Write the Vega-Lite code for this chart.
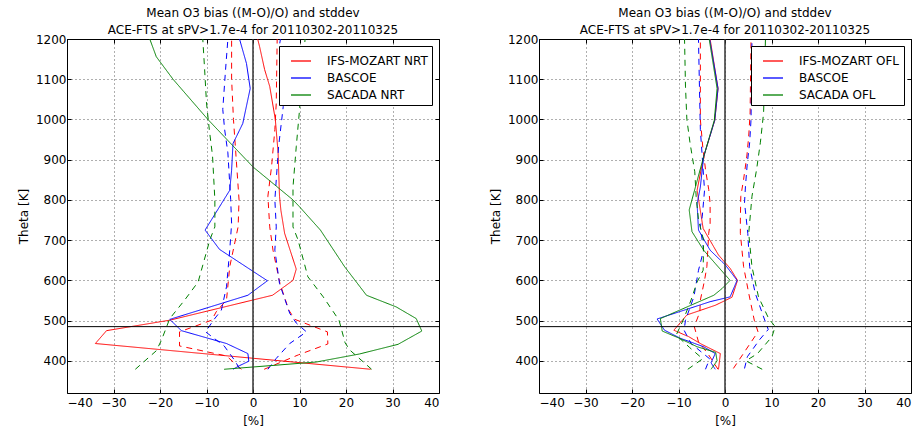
{
  "$schema": "https://vega.github.io/schema/vega-lite/v6.json",
  "background": "white",
  "padding": {"left": 16, "top": 6, "right": 5, "bottom": 0},
  "spacing": 48,
  "datasets": {
    "left": [
      {"series": "IFS-MOZART NRT", "line": "mean", "theta": 1200, "bias": 1.0},
      {"series": "IFS-MOZART NRT", "line": "mean", "theta": 1182, "bias": 1.4},
      {"series": "IFS-MOZART NRT", "line": "mean", "theta": 1124, "bias": 2.5},
      {"series": "IFS-MOZART NRT", "line": "mean", "theta": 1082, "bias": 3.6},
      {"series": "IFS-MOZART NRT", "line": "mean", "theta": 1000, "bias": 4.8},
      {"series": "IFS-MOZART NRT", "line": "mean", "theta": 917, "bias": 5.4},
      {"series": "IFS-MOZART NRT", "line": "mean", "theta": 809, "bias": 5.7},
      {"series": "IFS-MOZART NRT", "line": "mean", "theta": 774, "bias": 6.0},
      {"series": "IFS-MOZART NRT", "line": "mean", "theta": 717, "bias": 6.8},
      {"series": "IFS-MOZART NRT", "line": "mean", "theta": 628, "bias": 9.3},
      {"series": "IFS-MOZART NRT", "line": "mean", "theta": 600, "bias": 8.6},
      {"series": "IFS-MOZART NRT", "line": "mean", "theta": 563, "bias": 4.2},
      {"series": "IFS-MOZART NRT", "line": "mean", "theta": 501, "bias": -17.9},
      {"series": "IFS-MOZART NRT", "line": "mean", "theta": 475, "bias": -31.5},
      {"series": "IFS-MOZART NRT", "line": "mean", "theta": 443, "bias": -33.9},
      {"series": "IFS-MOZART NRT", "line": "mean", "theta": 379, "bias": 25.3},
      {"series": "IFS-MOZART NRT", "line": "lo", "theta": 1200, "bias": -4.6},
      {"series": "IFS-MOZART NRT", "line": "lo", "theta": 1100, "bias": -4.6},
      {"series": "IFS-MOZART NRT", "line": "lo", "theta": 1000, "bias": -4.2},
      {"series": "IFS-MOZART NRT", "line": "lo", "theta": 900, "bias": -3.6},
      {"series": "IFS-MOZART NRT", "line": "lo", "theta": 800, "bias": -3.0},
      {"series": "IFS-MOZART NRT", "line": "lo", "theta": 733, "bias": -3.2},
      {"series": "IFS-MOZART NRT", "line": "lo", "theta": 634, "bias": -5.0},
      {"series": "IFS-MOZART NRT", "line": "lo", "theta": 551, "bias": -5.7},
      {"series": "IFS-MOZART NRT", "line": "lo", "theta": 522, "bias": -7.9},
      {"series": "IFS-MOZART NRT", "line": "lo", "theta": 501, "bias": -8.9},
      {"series": "IFS-MOZART NRT", "line": "lo", "theta": 472, "bias": -15.8},
      {"series": "IFS-MOZART NRT", "line": "lo", "theta": 437, "bias": -15.8},
      {"series": "IFS-MOZART NRT", "line": "lo", "theta": 412, "bias": -5.7},
      {"series": "IFS-MOZART NRT", "line": "lo", "theta": 379, "bias": -2.5},
      {"series": "IFS-MOZART NRT", "line": "hi", "theta": 1200, "bias": 5.2},
      {"series": "IFS-MOZART NRT", "line": "hi", "theta": 1041, "bias": 5.0},
      {"series": "IFS-MOZART NRT", "line": "hi", "theta": 975, "bias": 4.7},
      {"series": "IFS-MOZART NRT", "line": "hi", "theta": 884, "bias": 4.0},
      {"series": "IFS-MOZART NRT", "line": "hi", "theta": 809, "bias": 3.2},
      {"series": "IFS-MOZART NRT", "line": "hi", "theta": 733, "bias": 3.6},
      {"series": "IFS-MOZART NRT", "line": "hi", "theta": 675, "bias": 4.3},
      {"series": "IFS-MOZART NRT", "line": "hi", "theta": 592, "bias": 5.8},
      {"series": "IFS-MOZART NRT", "line": "hi", "theta": 526, "bias": 7.7},
      {"series": "IFS-MOZART NRT", "line": "hi", "theta": 503, "bias": 9.0},
      {"series": "IFS-MOZART NRT", "line": "hi", "theta": 472, "bias": 16.0},
      {"series": "IFS-MOZART NRT", "line": "hi", "theta": 442, "bias": 16.1},
      {"series": "IFS-MOZART NRT", "line": "hi", "theta": 415, "bias": 9.8},
      {"series": "IFS-MOZART NRT", "line": "hi", "theta": 379, "bias": 2.4},
      {"series": "BASCOE", "line": "mean", "theta": 1200, "bias": -2.9},
      {"series": "BASCOE", "line": "mean", "theta": 1139, "bias": -1.4},
      {"series": "BASCOE", "line": "mean", "theta": 1077, "bias": -0.6},
      {"series": "BASCOE", "line": "mean", "theta": 990, "bias": -2.2},
      {"series": "BASCOE", "line": "mean", "theta": 940, "bias": -4.3},
      {"series": "BASCOE", "line": "mean", "theta": 874, "bias": -4.6},
      {"series": "BASCOE", "line": "mean", "theta": 824, "bias": -5.0},
      {"series": "BASCOE", "line": "mean", "theta": 725, "bias": -10.3},
      {"series": "BASCOE", "line": "mean", "theta": 677, "bias": -7.2},
      {"series": "BASCOE", "line": "mean", "theta": 599, "bias": 3.1},
      {"series": "BASCOE", "line": "mean", "theta": 563, "bias": -1.1},
      {"series": "BASCOE", "line": "mean", "theta": 503, "bias": -17.9},
      {"series": "BASCOE", "line": "mean", "theta": 475, "bias": -15.4},
      {"series": "BASCOE", "line": "mean", "theta": 443, "bias": -5.7},
      {"series": "BASCOE", "line": "mean", "theta": 418, "bias": -1.1},
      {"series": "BASCOE", "line": "mean", "theta": 399, "bias": -0.9},
      {"series": "BASCOE", "line": "mean", "theta": 388, "bias": -2.9},
      {"series": "BASCOE", "line": "mean", "theta": 379, "bias": -4.3},
      {"series": "BASCOE", "line": "lo", "theta": 1200, "bias": -5.4},
      {"series": "BASCOE", "line": "lo", "theta": 1124, "bias": -5.9},
      {"series": "BASCOE", "line": "lo", "theta": 1025, "bias": -6.5},
      {"series": "BASCOE", "line": "lo", "theta": 975, "bias": -6.1},
      {"series": "BASCOE", "line": "lo", "theta": 917, "bias": -5.4},
      {"series": "BASCOE", "line": "lo", "theta": 801, "bias": -4.8},
      {"series": "BASCOE", "line": "lo", "theta": 741, "bias": -4.6},
      {"series": "BASCOE", "line": "lo", "theta": 675, "bias": -5.0},
      {"series": "BASCOE", "line": "lo", "theta": 584, "bias": -5.7},
      {"series": "BASCOE", "line": "lo", "theta": 526, "bias": -6.8},
      {"series": "BASCOE", "line": "lo", "theta": 501, "bias": -8.5},
      {"series": "BASCOE", "line": "lo", "theta": 472, "bias": -10.2},
      {"series": "BASCOE", "line": "lo", "theta": 437, "bias": -6.2},
      {"series": "BASCOE", "line": "lo", "theta": 402, "bias": -4.0},
      {"series": "BASCOE", "line": "lo", "theta": 381, "bias": -2.9},
      {"series": "BASCOE", "line": "hi", "theta": 1200, "bias": 5.9},
      {"series": "BASCOE", "line": "hi", "theta": 1185, "bias": 5.7},
      {"series": "BASCOE", "line": "hi", "theta": 1032, "bias": 6.5},
      {"series": "BASCOE", "line": "hi", "theta": 932, "bias": 5.5},
      {"series": "BASCOE", "line": "hi", "theta": 800, "bias": 4.7},
      {"series": "BASCOE", "line": "hi", "theta": 733, "bias": 5.0},
      {"series": "BASCOE", "line": "hi", "theta": 675, "bias": 4.7},
      {"series": "BASCOE", "line": "hi", "theta": 592, "bias": 5.7},
      {"series": "BASCOE", "line": "hi", "theta": 518, "bias": 7.9},
      {"series": "BASCOE", "line": "hi", "theta": 494, "bias": 9.3},
      {"series": "BASCOE", "line": "hi", "theta": 472, "bias": 11.5},
      {"series": "BASCOE", "line": "hi", "theta": 443, "bias": 7.9},
      {"series": "BASCOE", "line": "hi", "theta": 406, "bias": 5.0},
      {"series": "BASCOE", "line": "hi", "theta": 379, "bias": 3.2},
      {"series": "SACADA NRT", "line": "mean", "theta": 1200, "bias": -22.2},
      {"series": "SACADA NRT", "line": "mean", "theta": 1156, "bias": -20.8},
      {"series": "SACADA NRT", "line": "mean", "theta": 1100, "bias": -17.2},
      {"series": "SACADA NRT", "line": "mean", "theta": 1000, "bias": -9.7},
      {"series": "SACADA NRT", "line": "mean", "theta": 882, "bias": 0.0},
      {"series": "SACADA NRT", "line": "mean", "theta": 800, "bias": 8.6},
      {"series": "SACADA NRT", "line": "mean", "theta": 783, "bias": 10.0},
      {"series": "SACADA NRT", "line": "mean", "theta": 725, "bias": 14.5},
      {"series": "SACADA NRT", "line": "mean", "theta": 634, "bias": 19.7},
      {"series": "SACADA NRT", "line": "mean", "theta": 563, "bias": 24.4},
      {"series": "SACADA NRT", "line": "mean", "theta": 534, "bias": 30.8},
      {"series": "SACADA NRT", "line": "mean", "theta": 505, "bias": 35.1},
      {"series": "SACADA NRT", "line": "mean", "theta": 474, "bias": 36.3},
      {"series": "SACADA NRT", "line": "mean", "theta": 441, "bias": 31.2},
      {"series": "SACADA NRT", "line": "mean", "theta": 417, "bias": 22.9},
      {"series": "SACADA NRT", "line": "mean", "theta": 397, "bias": 13.6},
      {"series": "SACADA NRT", "line": "mean", "theta": 379, "bias": -6.2},
      {"series": "SACADA NRT", "line": "lo", "theta": 1200, "bias": -10.8},
      {"series": "SACADA NRT", "line": "lo", "theta": 1124, "bias": -10.4},
      {"series": "SACADA NRT", "line": "lo", "theta": 1041, "bias": -10.0},
      {"series": "SACADA NRT", "line": "lo", "theta": 975, "bias": -9.4},
      {"series": "SACADA NRT", "line": "lo", "theta": 909, "bias": -8.7},
      {"series": "SACADA NRT", "line": "lo", "theta": 800, "bias": -8.2},
      {"series": "SACADA NRT", "line": "lo", "theta": 733, "bias": -8.2},
      {"series": "SACADA NRT", "line": "lo", "theta": 700, "bias": -9.3},
      {"series": "SACADA NRT", "line": "lo", "theta": 596, "bias": -11.8},
      {"series": "SACADA NRT", "line": "lo", "theta": 551, "bias": -14.7},
      {"series": "SACADA NRT", "line": "lo", "theta": 505, "bias": -17.9},
      {"series": "SACADA NRT", "line": "lo", "theta": 451, "bias": -19.7},
      {"series": "SACADA NRT", "line": "lo", "theta": 425, "bias": -20.8},
      {"series": "SACADA NRT", "line": "lo", "theta": 379, "bias": -25.3},
      {"series": "SACADA NRT", "line": "hi", "theta": 1200, "bias": 11.2},
      {"series": "SACADA NRT", "line": "hi", "theta": 1023, "bias": 10.0},
      {"series": "SACADA NRT", "line": "hi", "theta": 932, "bias": 9.3},
      {"series": "SACADA NRT", "line": "hi", "theta": 832, "bias": 8.6},
      {"series": "SACADA NRT", "line": "hi", "theta": 733, "bias": 8.6},
      {"series": "SACADA NRT", "line": "hi", "theta": 700, "bias": 9.7},
      {"series": "SACADA NRT", "line": "hi", "theta": 609, "bias": 11.8},
      {"series": "SACADA NRT", "line": "hi", "theta": 559, "bias": 15.1},
      {"series": "SACADA NRT", "line": "hi", "theta": 501, "bias": 18.5},
      {"series": "SACADA NRT", "line": "hi", "theta": 445, "bias": 19.8},
      {"series": "SACADA NRT", "line": "hi", "theta": 427, "bias": 20.8},
      {"series": "SACADA NRT", "line": "hi", "theta": 379, "bias": 25.5}
    ],
    "right": [
      {"series": "IFS-MOZART OFL", "line": "mean", "theta": 1200, "bias": -3.2},
      {"series": "IFS-MOZART OFL", "line": "mean", "theta": 1077, "bias": -1.5},
      {"series": "IFS-MOZART OFL", "line": "mean", "theta": 998, "bias": -2.2},
      {"series": "IFS-MOZART OFL", "line": "mean", "theta": 907, "bias": -4.6},
      {"series": "IFS-MOZART OFL", "line": "mean", "theta": 824, "bias": -6.0},
      {"series": "IFS-MOZART OFL", "line": "mean", "theta": 729, "bias": -4.7},
      {"series": "IFS-MOZART OFL", "line": "mean", "theta": 663, "bias": -1.4},
      {"series": "IFS-MOZART OFL", "line": "mean", "theta": 630, "bias": 1.1},
      {"series": "IFS-MOZART OFL", "line": "mean", "theta": 600, "bias": 2.7},
      {"series": "IFS-MOZART OFL", "line": "mean", "theta": 558, "bias": 1.5},
      {"series": "IFS-MOZART OFL", "line": "mean", "theta": 538, "bias": -2.1},
      {"series": "IFS-MOZART OFL", "line": "mean", "theta": 514, "bias": -8.2},
      {"series": "IFS-MOZART OFL", "line": "mean", "theta": 476, "bias": -11.0},
      {"series": "IFS-MOZART OFL", "line": "mean", "theta": 460, "bias": -7.8},
      {"series": "IFS-MOZART OFL", "line": "mean", "theta": 441, "bias": -5.0},
      {"series": "IFS-MOZART OFL", "line": "mean", "theta": 418, "bias": -1.0},
      {"series": "IFS-MOZART OFL", "line": "mean", "theta": 379, "bias": -1.4},
      {"series": "IFS-MOZART OFL", "line": "lo", "theta": 1200, "bias": -5.3},
      {"series": "IFS-MOZART OFL", "line": "lo", "theta": 1000, "bias": -5.3},
      {"series": "IFS-MOZART OFL", "line": "lo", "theta": 934, "bias": -4.8},
      {"series": "IFS-MOZART OFL", "line": "lo", "theta": 876, "bias": -4.2},
      {"series": "IFS-MOZART OFL", "line": "lo", "theta": 826, "bias": -3.5},
      {"series": "IFS-MOZART OFL", "line": "lo", "theta": 791, "bias": -3.2},
      {"series": "IFS-MOZART OFL", "line": "lo", "theta": 741, "bias": -3.2},
      {"series": "IFS-MOZART OFL", "line": "lo", "theta": 717, "bias": -3.5},
      {"series": "IFS-MOZART OFL", "line": "lo", "theta": 634, "bias": -3.9},
      {"series": "IFS-MOZART OFL", "line": "lo", "theta": 600, "bias": -4.4},
      {"series": "IFS-MOZART OFL", "line": "lo", "theta": 551, "bias": -5.3},
      {"series": "IFS-MOZART OFL", "line": "lo", "theta": 522, "bias": -5.4},
      {"series": "IFS-MOZART OFL", "line": "lo", "theta": 485, "bias": -6.6},
      {"series": "IFS-MOZART OFL", "line": "lo", "theta": 447, "bias": -5.7},
      {"series": "IFS-MOZART OFL", "line": "lo", "theta": 418, "bias": -3.7},
      {"series": "IFS-MOZART OFL", "line": "lo", "theta": 379, "bias": -1.5},
      {"series": "IFS-MOZART OFL", "line": "hi", "theta": 1200, "bias": 5.6},
      {"series": "IFS-MOZART OFL", "line": "hi", "theta": 1016, "bias": 5.4},
      {"series": "IFS-MOZART OFL", "line": "hi", "theta": 958, "bias": 5.1},
      {"series": "IFS-MOZART OFL", "line": "hi", "theta": 909, "bias": 4.7},
      {"series": "IFS-MOZART OFL", "line": "hi", "theta": 851, "bias": 4.0},
      {"series": "IFS-MOZART OFL", "line": "hi", "theta": 809, "bias": 3.4},
      {"series": "IFS-MOZART OFL", "line": "hi", "theta": 750, "bias": 3.3},
      {"series": "IFS-MOZART OFL", "line": "hi", "theta": 717, "bias": 3.3},
      {"series": "IFS-MOZART OFL", "line": "hi", "theta": 634, "bias": 4.0},
      {"series": "IFS-MOZART OFL", "line": "hi", "theta": 568, "bias": 5.1},
      {"series": "IFS-MOZART OFL", "line": "hi", "theta": 501, "bias": 6.3},
      {"series": "IFS-MOZART OFL", "line": "hi", "theta": 472, "bias": 7.1},
      {"series": "IFS-MOZART OFL", "line": "hi", "theta": 443, "bias": 5.4},
      {"series": "IFS-MOZART OFL", "line": "hi", "theta": 381, "bias": 1.8},
      {"series": "BASCOE", "line": "mean", "theta": 1200, "bias": -3.3},
      {"series": "BASCOE", "line": "mean", "theta": 1077, "bias": -1.5},
      {"series": "BASCOE", "line": "mean", "theta": 998, "bias": -2.2},
      {"series": "BASCOE", "line": "mean", "theta": 907, "bias": -4.6},
      {"series": "BASCOE", "line": "mean", "theta": 832, "bias": -5.3},
      {"series": "BASCOE", "line": "mean", "theta": 790, "bias": -6.0},
      {"series": "BASCOE", "line": "mean", "theta": 725, "bias": -5.7},
      {"series": "BASCOE", "line": "mean", "theta": 675, "bias": -3.2},
      {"series": "BASCOE", "line": "mean", "theta": 638, "bias": 0.1},
      {"series": "BASCOE", "line": "mean", "theta": 600, "bias": 2.6},
      {"series": "BASCOE", "line": "mean", "theta": 559, "bias": 1.1},
      {"series": "BASCOE", "line": "mean", "theta": 547, "bias": -3.2},
      {"series": "BASCOE", "line": "mean", "theta": 504, "bias": -14.6},
      {"series": "BASCOE", "line": "mean", "theta": 476, "bias": -13.0},
      {"series": "BASCOE", "line": "mean", "theta": 456, "bias": -9.6},
      {"series": "BASCOE", "line": "mean", "theta": 435, "bias": -4.6},
      {"series": "BASCOE", "line": "mean", "theta": 418, "bias": -2.1},
      {"series": "BASCOE", "line": "mean", "theta": 395, "bias": -3.0},
      {"series": "BASCOE", "line": "mean", "theta": 379, "bias": -2.1},
      {"series": "BASCOE", "line": "lo", "theta": 1200, "bias": -5.7},
      {"series": "BASCOE", "line": "lo", "theta": 1083, "bias": -5.5},
      {"series": "BASCOE", "line": "lo", "theta": 975, "bias": -5.3},
      {"series": "BASCOE", "line": "lo", "theta": 892, "bias": -4.8},
      {"series": "BASCOE", "line": "lo", "theta": 824, "bias": -4.4},
      {"series": "BASCOE", "line": "lo", "theta": 758, "bias": -4.9},
      {"series": "BASCOE", "line": "lo", "theta": 733, "bias": -5.3},
      {"series": "BASCOE", "line": "lo", "theta": 675, "bias": -4.6},
      {"series": "BASCOE", "line": "lo", "theta": 625, "bias": -5.7},
      {"series": "BASCOE", "line": "lo", "theta": 559, "bias": -6.7},
      {"series": "BASCOE", "line": "lo", "theta": 501, "bias": -8.5},
      {"series": "BASCOE", "line": "lo", "theta": 476, "bias": -8.8},
      {"series": "BASCOE", "line": "lo", "theta": 443, "bias": -7.3},
      {"series": "BASCOE", "line": "lo", "theta": 405, "bias": -3.3},
      {"series": "BASCOE", "line": "lo", "theta": 379, "bias": -4.2},
      {"series": "BASCOE", "line": "hi", "theta": 1200, "bias": 5.8},
      {"series": "BASCOE", "line": "hi", "theta": 1000, "bias": 5.6},
      {"series": "BASCOE", "line": "hi", "theta": 942, "bias": 5.3},
      {"series": "BASCOE", "line": "hi", "theta": 892, "bias": 4.8},
      {"series": "BASCOE", "line": "hi", "theta": 834, "bias": 4.4},
      {"series": "BASCOE", "line": "hi", "theta": 793, "bias": 4.2},
      {"series": "BASCOE", "line": "hi", "theta": 717, "bias": 4.9},
      {"series": "BASCOE", "line": "hi", "theta": 634, "bias": 5.3},
      {"series": "BASCOE", "line": "hi", "theta": 568, "bias": 6.5},
      {"series": "BASCOE", "line": "hi", "theta": 509, "bias": 8.3},
      {"series": "BASCOE", "line": "hi", "theta": 478, "bias": 9.3},
      {"series": "BASCOE", "line": "hi", "theta": 452, "bias": 7.4},
      {"series": "BASCOE", "line": "hi", "theta": 410, "bias": 4.8},
      {"series": "BASCOE", "line": "hi", "theta": 381, "bias": 4.2},
      {"series": "SACADA OFL", "line": "mean", "theta": 1200, "bias": -3.4},
      {"series": "SACADA OFL", "line": "mean", "theta": 1077, "bias": -1.7},
      {"series": "SACADA OFL", "line": "mean", "theta": 998, "bias": -2.3},
      {"series": "SACADA OFL", "line": "mean", "theta": 907, "bias": -4.6},
      {"series": "SACADA OFL", "line": "mean", "theta": 775, "bias": -7.7},
      {"series": "SACADA OFL", "line": "mean", "theta": 721, "bias": -7.1},
      {"series": "SACADA OFL", "line": "mean", "theta": 675, "bias": -4.6},
      {"series": "SACADA OFL", "line": "mean", "theta": 642, "bias": -2.1},
      {"series": "SACADA OFL", "line": "mean", "theta": 600, "bias": 1.1},
      {"series": "SACADA OFL", "line": "mean", "theta": 580, "bias": -0.6},
      {"series": "SACADA OFL", "line": "mean", "theta": 563, "bias": -2.4},
      {"series": "SACADA OFL", "line": "mean", "theta": 505, "bias": -13.9},
      {"series": "SACADA OFL", "line": "mean", "theta": 474, "bias": -13.5},
      {"series": "SACADA OFL", "line": "mean", "theta": 457, "bias": -10.0},
      {"series": "SACADA OFL", "line": "mean", "theta": 435, "bias": -6.0},
      {"series": "SACADA OFL", "line": "mean", "theta": 421, "bias": -2.0},
      {"series": "SACADA OFL", "line": "mean", "theta": 400, "bias": -1.7},
      {"series": "SACADA OFL", "line": "mean", "theta": 379, "bias": -3.0},
      {"series": "SACADA OFL", "line": "lo", "theta": 1200, "bias": -8.7},
      {"series": "SACADA OFL", "line": "lo", "theta": 1083, "bias": -8.5},
      {"series": "SACADA OFL", "line": "lo", "theta": 1000, "bias": -8.2},
      {"series": "SACADA OFL", "line": "lo", "theta": 940, "bias": -7.5},
      {"series": "SACADA OFL", "line": "lo", "theta": 870, "bias": -6.5},
      {"series": "SACADA OFL", "line": "lo", "theta": 808, "bias": -6.2},
      {"series": "SACADA OFL", "line": "lo", "theta": 750, "bias": -5.7},
      {"series": "SACADA OFL", "line": "lo", "theta": 700, "bias": -4.6},
      {"series": "SACADA OFL", "line": "lo", "theta": 625, "bias": -4.7},
      {"series": "SACADA OFL", "line": "lo", "theta": 596, "bias": -6.0},
      {"series": "SACADA OFL", "line": "lo", "theta": 551, "bias": -7.3},
      {"series": "SACADA OFL", "line": "lo", "theta": 501, "bias": -9.0},
      {"series": "SACADA OFL", "line": "lo", "theta": 464, "bias": -10.5},
      {"series": "SACADA OFL", "line": "lo", "theta": 433, "bias": -7.6},
      {"series": "SACADA OFL", "line": "lo", "theta": 405, "bias": -4.8},
      {"series": "SACADA OFL", "line": "lo", "theta": 379, "bias": -8.0},
      {"series": "SACADA OFL", "line": "hi", "theta": 1200, "bias": 8.7},
      {"series": "SACADA OFL", "line": "hi", "theta": 1016, "bias": 8.3},
      {"series": "SACADA OFL", "line": "hi", "theta": 942, "bias": 7.6},
      {"series": "SACADA OFL", "line": "hi", "theta": 876, "bias": 6.8},
      {"series": "SACADA OFL", "line": "hi", "theta": 809, "bias": 5.8},
      {"series": "SACADA OFL", "line": "hi", "theta": 717, "bias": 5.1},
      {"series": "SACADA OFL", "line": "hi", "theta": 634, "bias": 5.8},
      {"series": "SACADA OFL", "line": "hi", "theta": 559, "bias": 7.2},
      {"series": "SACADA OFL", "line": "hi", "theta": 505, "bias": 9.4},
      {"series": "SACADA OFL", "line": "hi", "theta": 485, "bias": 10.8},
      {"series": "SACADA OFL", "line": "hi", "theta": 460, "bias": 10.1},
      {"series": "SACADA OFL", "line": "hi", "theta": 418, "bias": 7.0},
      {"series": "SACADA OFL", "line": "hi", "theta": 400, "bias": 4.5},
      {"series": "SACADA OFL", "line": "hi", "theta": 379, "bias": 8.0}
    ]
  },
  "hconcat": [
    {
      "width": 372,
      "height": 354,
      "title": {"text": ["Mean O3 bias ((M-O)/O) and stddev", "ACE-FTS at sPV>1.7e-4 for 20110302-20110325"]},
      "layer": [
        {
          "data": {"name": "left"},
          "mark": {"type": "line", "strokeWidth": 1, "clip": true},
          "encoding": {
            "x": {"field": "bias", "type": "quantitative", "title": "[%]", "scale": {"domain": [-40, 40], "nice": false, "zero": false}, "axis": {"values": [-40, -30, -20, -10, 0, 10, 20, 30, 40], "orient": "bottom", "format": "d", "labelPadding": 8, "titlePadding": 7}},
            "y": {"field": "theta", "type": "quantitative", "title": "Theta [K]", "scale": {"domain": [320, 1200], "nice": false, "zero": false}, "axis": {"values": [400, 500, 600, 700, 800, 900, 1000, 1100, 1200], "orient": "left", "format": "d"}},
            "color": {"field": "series", "type": "nominal", "scale": {"domain": ["IFS-MOZART NRT", "BASCOE", "SACADA NRT"], "range": ["#ff0000", "#0000ff", "#008000"]}},
            "strokeDash": {"field": "line", "type": "nominal", "scale": {"domain": ["mean", "lo", "hi"], "range": [[1, 0], [6, 5], [6, 5]]}, "legend": null},
            "order": {"field": "theta", "type": "quantitative"}
          }
        },
        {
          "data": {"values": [{"bias": 0}]},
          "mark": {"type": "rule", "color": "#333333", "strokeWidth": 1.5},
          "encoding": {
            "x": {"field": "bias", "type": "quantitative", "title": null, "axis": {"orient": "top", "values": [-40, -30, -20, -10, 0, 10, 20, 30, 40], "labels": false, "grid": false, "title": null}}
          }
        },
        {
          "data": {"values": [{"theta": 485}]},
          "mark": {"type": "rule", "color": "#000000", "strokeWidth": 1},
          "encoding": {
            "y": {"field": "theta", "type": "quantitative", "title": null, "axis": {"orient": "right", "values": [400, 500, 600, 700, 800, 900, 1000, 1100, 1200], "labels": false, "grid": false, "title": null}}
          }
        }
      ],
      "resolve": {"axis": {"x": "independent", "y": "independent"}}
    },
    {
      "width": 372,
      "height": 354,
      "title": {"text": ["Mean O3 bias ((M-O)/O) and stddev", "ACE-FTS at sPV>1.7e-4 for 20110302-20110325"]},
      "layer": [
        {
          "data": {"name": "right"},
          "mark": {"type": "line", "strokeWidth": 1, "clip": true},
          "encoding": {
            "x": {"field": "bias", "type": "quantitative", "title": "[%]", "scale": {"domain": [-40, 40], "nice": false, "zero": false}, "axis": {"values": [-40, -30, -20, -10, 0, 10, 20, 30, 40], "orient": "bottom", "format": "d", "labelPadding": 8, "titlePadding": 7}},
            "y": {"field": "theta", "type": "quantitative", "title": "Theta [K]", "scale": {"domain": [320, 1200], "nice": false, "zero": false}, "axis": {"values": [400, 500, 600, 700, 800, 900, 1000, 1100, 1200], "orient": "left", "format": "d"}},
            "color": {"field": "series", "type": "nominal", "scale": {"domain": ["IFS-MOZART OFL", "BASCOE", "SACADA OFL"], "range": ["#ff0000", "#0000ff", "#008000"]}},
            "strokeDash": {"field": "line", "type": "nominal", "scale": {"domain": ["mean", "lo", "hi"], "range": [[1, 0], [6, 5], [6, 5]]}, "legend": null},
            "order": {"field": "theta", "type": "quantitative"}
          }
        },
        {
          "data": {"values": [{"bias": 0}]},
          "mark": {"type": "rule", "color": "#333333", "strokeWidth": 1.5},
          "encoding": {
            "x": {"field": "bias", "type": "quantitative", "title": null, "axis": {"orient": "top", "values": [-40, -30, -20, -10, 0, 10, 20, 30, 40], "labels": false, "grid": false, "title": null}}
          }
        },
        {
          "data": {"values": [{"theta": 485}]},
          "mark": {"type": "rule", "color": "#000000", "strokeWidth": 1},
          "encoding": {
            "y": {"field": "theta", "type": "quantitative", "title": null, "axis": {"orient": "right", "values": [400, 500, 600, 700, 800, 900, 1000, 1100, 1200], "labels": false, "grid": false, "title": null}}
          }
        }
      ],
      "resolve": {"axis": {"x": "independent", "y": "independent"}}
    }
  ],
  "resolve": {"scale": {"color": "independent"}, "legend": {"color": "independent"}},
  "config": {
    "font": "DejaVu Sans",
    "view": {"stroke": "#000000", "strokeWidth": 1},
    "title": {"frame": "group", "anchor": "middle", "fontSize": 12, "fontWeight": "normal", "color": "#000000", "offset": -4, "lineHeight": 17},
    "axis": {"domain": false, "grid": true, "gridColor": "#000000", "gridDash": [1, 3], "gridWidth": 0.7, "gridOpacity": 0.9, "tickColor": "#000000", "tickSize": -4, "labelFontSize": 12, "labelColor": "#000000", "labelPadding": 5, "titleFontSize": 12, "titleFontWeight": "normal", "titleColor": "#000000", "titlePadding": 5},
    "legend": {"orient": "top-right", "offset": 7, "strokeColor": "#000000", "fillColor": "#ffffff", "padding": 4, "symbolOffset": 7, "symbolType": "stroke", "symbolSize": 400, "symbolStrokeWidth": 1.3, "labelFontSize": 12, "labelColor": "#000000", "labelOffset": 15, "rowPadding": 0, "title": null, "cornerRadius": 0}
  }
}
